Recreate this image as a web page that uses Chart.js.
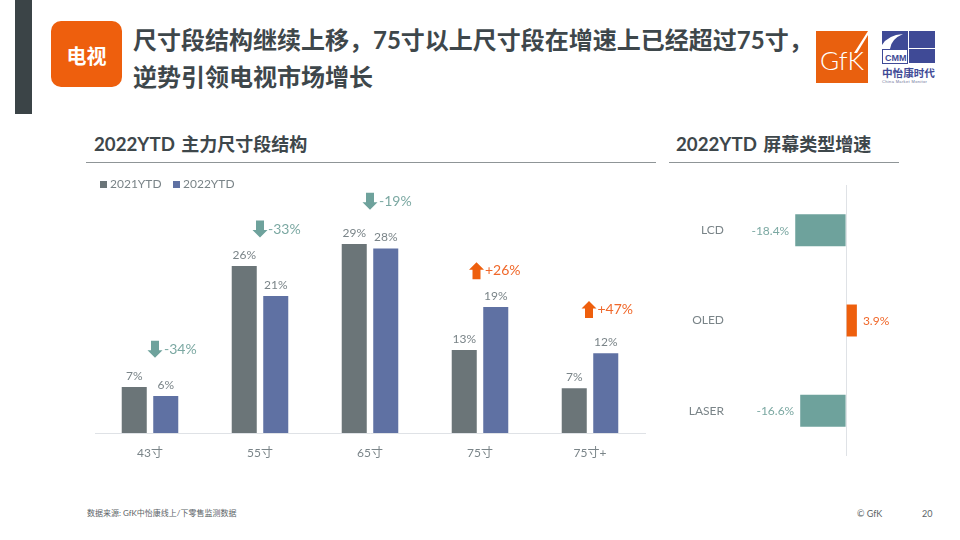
<!DOCTYPE html>
<html>
<head>
<meta charset="utf-8">
<script src="https://cdn.jsdelivr.net/npm/chart.js@4"></script>
<style>
  html, body { margin: 0; padding: 0; background: #fff; }
  body { width: 960px; height: 540px; position: relative; overflow: hidden; font-family: Lato, "Noto Sans CJK SC", sans-serif; color: #3e474b; }
  .abs { position: absolute; white-space: nowrap; }
  .title { left: 133px; font-size: 24px; font-weight: 700; line-height: 30px; }
  .section { top: 132px; font-size: 18px; font-weight: 700; line-height: 24px; }
  .section span { font-size: 18.7px; margin-right: 2px; }
  .rule { height: 1px; background: #8f9597; top: 162px; }
  canvas { position: absolute; }
</style>
</head>
<body>
<div class="abs" style="left:15px;top:0;width:17px;height:114px;background:#3b4447"></div>
<div class="abs" style="left:51px;top:21px;width:71px;height:66px;border-radius:10px;background:#ee5f0d;color:#fff;font-size:20px;font-weight:700;line-height:70px;text-align:center">电视</div>
<div class="abs title" style="top:25px">尺寸段结构继续上移，75寸以上尺寸段在增速上已经超过75寸，</div>
<div class="abs title" style="top:62px">逆势引领电视市场增长</div>

<svg class="abs" style="left:816px;top:31px" width="120" height="56" viewBox="0 0 120 56">
  <rect x="0" y="0" width="52" height="52" fill="#e9600e"/>
  <path d="M52 0 L38 22 L41 22 L52 4 Z" fill="#fff"/>
  <text x="4" y="39" font-family="Lato" font-weight="300" font-size="26" fill="#fff">GfK</text>
  <path d="M66 0 H92 V18 H74 Q75 8 87 3 Q72 4 66 14 Z" fill="#3f4a96"/>
  <rect x="93" y="0" width="26" height="17" fill="#3f4a96"/>
  <rect x="93" y="18" width="26" height="14" fill="#3f4a96"/>
  <rect x="66.5" y="18.5" width="25" height="14" fill="#fff" stroke="#3f4a96"/>
  <text x="69" y="30" font-family="Liberation Sans" font-weight="700" font-size="9" fill="#3f4a96">CMM</text>
  <text x="66" y="46" font-family="Noto Sans CJK SC" font-weight="700" font-size="10.6" fill="#3f4a96">中怡康时代</text>
  <text x="66" y="52" font-family="Liberation Sans" font-size="4" letter-spacing=".35" fill="#6b7398">China Market Monitor</text>
</svg>

<div class="abs section" style="left:94px"><span>2022YTD</span> 主力尺寸段结构</div>
<div class="abs rule" style="left:86px;width:570px"></div>
<div class="abs section" style="left:676px"><span>2022YTD</span> 屏幕类型增速</div>
<div class="abs rule" style="left:669px;width:230px"></div>

<canvas id="sizeChart" width="570" height="300" style="left:86px;top:170px"></canvas>
<canvas id="typeChart" width="240" height="271" style="left:660px;top:185px"></canvas>

<div class="abs" style="left:87px;top:507px;font-size:8px;line-height:12px;color:#5c6467">数据来源: GfK中怡康线上/下零售监测数据</div>
<div class="abs" style="left:857px;top:508px;font-size:9px;line-height:12px;color:#5c6467">© GfK</div>
<div class="abs" style="left:922px;top:508px;font-size:9px;line-height:12px;color:#5c6467">20</div>

<script>
const sizes = ['43寸', '55寸', '65寸', '75寸', '75寸+'];
const share2021 = [7.1, 25.7, 29.1, 12.8, 6.9];
const share2022 = [5.7, 21.1, 28.4, 19.4, 12.3];
const growth = [-34, -33, -19, 26, 47];

const screenTypes = ['LCD', 'OLED', 'LASER'];
const screenGrowth = [-18.4, 3.9, -16.6];

const GREY = '#6b7578', BLUE = '#5f71a3', TEAL = '#6ea29c', ORANGE = '#ee5f0d';
const TEAL_TEXT = '#7ba8a2', ORANGE_TEXT = '#f0682a', LABEL = '#7a8488';
const FONT = 'Lato, "Noto Sans CJK SC", sans-serif';

// where each growth note sits: height on the value scale, nudge from category centre
const noteLevel = [12.9, 31.4, 35.7, 25, 19];
const noteNudge = [5, 0, 0, -3.5, -1];
const noteText = [9, 8, 9, 8.5, 8.5];

function arrow(ctx, x, y, up, color) {
    const dir = up ? -1 : 1;
    ctx.fillStyle = color;
    ctx.beginPath();
    ctx.moveTo(x - 4, y - 8.5 * dir);
    ctx.lineTo(x + 4, y - 8.5 * dir);
    ctx.lineTo(x + 4, y + 1 * dir);
    ctx.lineTo(x + 7.5, y + 1 * dir);
    ctx.lineTo(x, y + 8.5 * dir);
    ctx.lineTo(x - 7.5, y + 1 * dir);
    ctx.lineTo(x - 4, y + 1 * dir);
    ctx.closePath();
    ctx.fill();
}

const sizeNotes = {
    id: 'sizeNotes',
    afterDatasetsDraw(chart) {
        const { ctx, scales } = chart;
        ctx.save();
        ctx.textBaseline = 'middle';

        // value labels on top of the bars
        ctx.font = '12px ' + FONT;
        ctx.fillStyle = LABEL;
        ctx.textAlign = 'center';
        chart.data.datasets.forEach((ds, d) => {
            chart.getDatasetMeta(d).data.forEach((bar, i) => {
                ctx.fillText(Math.round(ds.data[i]) + '%', bar.x, bar.y - 11);
            });
        });

        // growth arrows
        ctx.font = '14px ' + FONT;
        ctx.textAlign = 'left';
        growth.forEach((g, i) => {
            const up = g > 0;
            const x = scales.x.getPixelForValue(i) + noteNudge[i];
            const y = scales.y.getPixelForValue(noteLevel[i]);
            arrow(ctx, x, y, up, up ? ORANGE : TEAL);
            ctx.fillStyle = up ? ORANGE_TEXT : TEAL_TEXT;
            ctx.fillText((up ? '+' : '') + g + '%', x + noteText[i], y);
        });

        // legend
        let lx = 14;
        ctx.font = '12px ' + FONT;
        chart.data.datasets.forEach(ds => {
            ctx.fillStyle = ds.backgroundColor;
            ctx.fillRect(lx, 11, 7, 7);
            ctx.fillStyle = LABEL;
            ctx.fillText(ds.label, lx + 10, 14.5);
            lx += 73;
        });
        ctx.restore();
    }
};

new Chart(document.getElementById('sizeChart'), {
    type: 'bar',
    data: {
        labels: sizes,
        datasets: [
            { label: '2021YTD', data: share2021, backgroundColor: GREY },
            { label: '2022YTD', data: share2022, backgroundColor: BLUE }
        ]
    },
    options: {
        responsive: false,
        animation: false,
        categoryPercentage: 0.573,
        barPercentage: 0.794,
        layout: { padding: { left: 9, right: 11 } },
        plugins: { legend: { display: false }, tooltip: { enabled: false } },
        scales: {
            x: {
                afterFit: s => { s.height = 37; },
                grid: { display: false, drawTicks: false },
                border: { color: '#dfe2e6' },
                ticks: { color: LABEL, font: { size: 12, family: FONT }, padding: 13, maxRotation: 0 }
            },
            y: { display: false, min: 0, max: 40.5 }
        }
    },
    plugins: [sizeNotes]
});

const typeLabels = {
    id: 'typeLabels',
    afterDatasetsDraw(chart) {
        const { ctx } = chart;
        ctx.save();
        ctx.font = '12px ' + FONT;
        ctx.textBaseline = 'middle';
        chart.getDatasetMeta(0).data.forEach((bar, i) => {
            const v = screenGrowth[i];
            ctx.fillStyle = v > 0 ? ORANGE_TEXT : TEAL_TEXT;
            ctx.textAlign = v > 0 ? 'left' : 'right';
            ctx.fillText(v.toFixed(1) + '%', bar.x + (v > 0 ? 6 : -6), bar.y + 0.5);
        });
        ctx.restore();
    }
};

new Chart(document.getElementById('typeChart'), {
    type: 'bar',
    data: {
        labels: screenTypes,
        datasets: [{
            data: screenGrowth,
            backgroundColor: screenGrowth.map(v => v > 0 ? ORANGE : TEAL),
            categoryPercentage: 1,
            barPercentage: 0.354
        }]
    },
    options: {
        indexAxis: 'y',
        responsive: false,
        animation: false,
        plugins: { legend: { display: false }, tooltip: { enabled: false } },
        scales: {
            x: {
                min: -42,
                max: 19.5,
                afterFit: s => { s.height = 0; },
                border: { display: false },
                grid: { drawTicks: false, color: c => c.tick.value === 0 ? '#dfe2e6' : 'transparent' },
                ticks: { display: false, stepSize: 10 }
            },
            y: {
                afterFit: s => { s.width = 70; s.paddingTop = 0; s.paddingBottom = 0; },
                grid: { display: false, drawTicks: false },
                border: { display: false },
                ticks: { color: LABEL, font: { size: 12, family: FONT }, padding: 6 }
            }
        }
    },
    plugins: [typeLabels]
});
</script>
</body>
</html>
